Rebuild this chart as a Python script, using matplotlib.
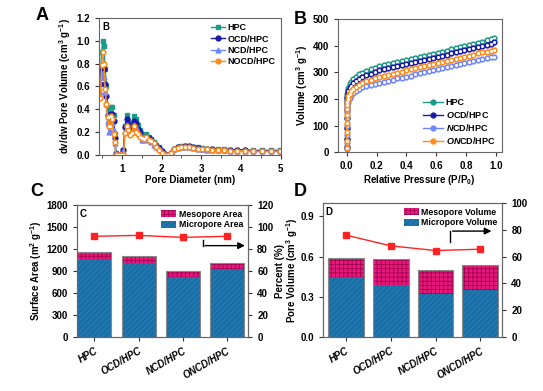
import matplotlib
matplotlib.use("Agg")
import matplotlib.pyplot as plt
from matplotlib.patches import Patch
from matplotlib.lines import Line2D

plt.rcParams['font.family'] = ['Liberation Sans', 'DejaVu Sans']
plt.rcParams['font.weight'] = 'bold'
plt.rcParams['axes.labelweight'] = 'bold'
plt.rcParams['mathtext.fontset'] = 'custom'
plt.rcParams['mathtext.rm'] = 'Liberation Sans:bold'
plt.rcParams['mathtext.bf'] = 'Liberation Sans:bold'
plt.rcParams['mathtext.it'] = 'Liberation Sans:italic:bold'
plt.rcParams['mathtext.default'] = 'rm'
plt.rcParams['axes.edgecolor'] = '#666666'
plt.rcParams['xtick.color'] = '#333333'
plt.rcParams['ytick.color'] = '#333333'
plt.rcParams['xtick.labelcolor'] = 'black'
plt.rcParams['ytick.labelcolor'] = 'black'
plt.rcParams['hatch.linewidth'] = 0.6

# ---- panel A: pore size distribution
pore_d = [0.46, 0.49, 0.52, 0.55, 0.58, 0.61, 0.64, 0.67, 0.70, 0.73, 0.76, 0.79, 0.82, 0.85,
          0.88, 0.92, 0.96, 1.00, 1.04, 1.08, 1.12, 1.16, 1.20, 1.25, 1.30, 1.35, 1.40, 1.45,
          1.50, 1.56, 1.62, 1.68, 1.74, 1.80, 1.87, 1.94, 2.01, 2.08, 2.16, 2.24, 2.32, 2.41,
          2.50, 2.60, 2.70, 2.80, 2.91, 3.02, 3.14, 3.27, 3.41, 3.56, 3.72, 3.90, 4.10, 4.30,
          4.52, 4.75, 4.98]
psd_hpc = [0.70, 0.90, 1.00, 0.95, 0.75, 0.60, 0.40, 0.30, 0.33, 0.42, 0.42, 0.35, 0.18, 0.02,
           0.00, 0.00, 0.00, 0.00, 0.04, 0.25, 0.35, 0.30, 0.26, 0.27, 0.34, 0.31, 0.26, 0.22,
           0.17, 0.17, 0.18, 0.16, 0.14, 0.11, 0.09, 0.07, 0.03, 0.01, 0.00, 0.02, 0.05, 0.07,
           0.075, 0.08, 0.08, 0.07, 0.065, 0.06, 0.055, 0.055, 0.05, 0.05, 0.045, 0.045, 0.045,
           0.04, 0.04, 0.04, 0.04]
psd_ocd = [0.62, 0.75, 0.78, 0.75, 0.62, 0.52, 0.35, 0.26, 0.28, 0.36, 0.36, 0.30, 0.15, 0.01,
           0.00, 0.00, 0.00, 0.00, 0.04, 0.24, 0.31, 0.27, 0.23, 0.24, 0.30, 0.28, 0.23, 0.20,
           0.15, 0.15, 0.16, 0.15, 0.13, 0.10, 0.08, 0.06, 0.03, 0.01, 0.00, 0.02, 0.05, 0.065,
           0.07, 0.075, 0.075, 0.065, 0.06, 0.055, 0.05, 0.05, 0.045, 0.045, 0.04, 0.04, 0.04,
           0.035, 0.035, 0.035, 0.035]
psd_ncd = [0.55, 0.68, 0.72, 0.68, 0.55, 0.45, 0.30, 0.20, 0.21, 0.28, 0.28, 0.22, 0.10, 0.01,
           0.00, 0.00, 0.00, 0.00, 0.03, 0.20, 0.26, 0.22, 0.19, 0.20, 0.26, 0.24, 0.20, 0.17,
           0.13, 0.13, 0.14, 0.13, 0.11, 0.09, 0.07, 0.05, 0.02, 0.01, 0.00, 0.02, 0.05, 0.06,
           0.07, 0.07, 0.07, 0.06, 0.055, 0.05, 0.045, 0.045, 0.04, 0.04, 0.035, 0.035, 0.035,
           0.03, 0.03, 0.03, 0.03]
psd_nocd = [0.50, 0.79, 0.90, 0.80, 0.58, 0.45, 0.33, 0.25, 0.25, 0.34, 0.31, 0.18, 0.11, 0.00,
            0.00, 0.00, 0.00, 0.00, 0.00, 0.19, 0.25, 0.22, 0.17, 0.19, 0.25, 0.20, 0.18, 0.16,
            0.15, 0.14, 0.16, 0.13, 0.12, 0.10, 0.07, 0.04, 0.02, 0.00, 0.00, 0.02, 0.05, 0.06,
            0.065, 0.07, 0.07, 0.06, 0.055, 0.05, 0.05, 0.045, 0.04, 0.04, 0.035, 0.035, 0.035,
            0.03, 0.03, 0.03, 0.03]

# ---- panel B: N2 isotherms
rel_p = [0.0, 0.0, 0.0, 0.0, 0.001, 0.002, 0.003, 0.005, 0.008, 0.012, 0.02, 0.03, 0.045,
         0.06, 0.08, 0.10, 0.13, 0.16, 0.19, 0.22, 0.25, 0.28, 0.31, 0.34, 0.37, 0.40, 0.43,
         0.46, 0.49, 0.52, 0.55, 0.58, 0.61, 0.64, 0.67, 0.70, 0.73, 0.76, 0.79, 0.82, 0.85,
         0.88, 0.91, 0.94, 0.97, 0.99]
iso_hpc = [20, 50, 90, 130, 165, 190, 205, 218, 230, 242, 255, 265, 276, 284, 292, 298, 305,
           311, 316, 322, 326, 330, 334, 338, 342, 346, 350, 354, 358, 362, 366, 370, 374, 378,
           382, 386, 390, 394, 398, 402, 406, 410, 415, 420, 425, 431]
iso_ocd = [20, 50, 90, 128, 160, 182, 196, 207, 218, 229, 240, 250, 260, 268, 276, 282, 289,
           295, 300, 308, 312, 315, 319, 322, 326, 330, 334, 338, 342, 346, 350, 354, 359, 363,
           367, 371, 375, 379, 383, 387, 391, 395, 399, 403, 408, 413]
iso_oncd = [15, 40, 75, 110, 140, 163, 177, 189, 200, 210, 220, 229, 238, 246, 253, 260, 266,
            272, 277, 283, 287, 291, 295, 299, 303, 307, 311, 315, 319, 323, 327, 331, 335, 339,
            343, 347, 351, 355, 359, 363, 367, 371, 375, 378, 381, 384]
iso_ncd = [12, 35, 65, 100, 130, 152, 166, 177, 187, 196, 205, 214, 222, 230, 237, 243, 249,
           254, 258, 261, 265, 269, 273, 277, 280, 284, 288, 292, 296, 300, 304, 308, 312, 316,
           320, 324, 328, 332, 336, 340, 344, 347, 350, 353, 356, 358]

# ---- panels C, D
samples = ['HPC', 'OCD/HPC', 'NCD/HPC', 'ONCD/HPC']
micro_area = [1065, 1010, 815, 920]
total_area = [1165, 1100, 900, 1010]
area_percent = [91.5, 92.3, 90.5, 91.5]
micro_vol = [0.45, 0.39, 0.32, 0.35]
total_vol = [0.59, 0.58, 0.50, 0.54]
vol_percent = [76, 68, 64.5, 65.5]

c_hpc, c_ocd, c_ncd, c_nocd = '#1c9a8a', '#1a1aa8', '#6f86ff', '#ff8c1a'
c_micro, c_micro_h = '#1a6ea6', '#2a80b8'
c_meso, c_meso_h = '#e8197d', '#a3004f'

fig = plt.figure(figsize=(5.43, 3.91), dpi=100)

# ===== A =====
axA = fig.add_axes([0.182, 0.604, 0.335, 0.350])
axA.plot(pore_d, psd_hpc, '-s', color=c_hpc, ms=3.5, lw=1, label='HPC')
axA.plot(pore_d, psd_ocd, '-o', color=c_ocd, ms=3.5, lw=1, label='OCD/HPC')
axA.plot(pore_d, psd_ncd, '-^', color=c_ncd, ms=3.5, lw=1, label='NCD/HPC')
axA.plot(pore_d, psd_nocd, '-o', color=c_nocd, ms=3.5, lw=1, label='NOCD/HPC')
axA.plot(pore_d, psd_nocd, 'o', color='white', ms=1.2)
axA.set_xlim(0.42, 5.0)
axA.set_ylim(0, 1.2)
axA.set_xticks([1, 2, 3, 4, 5])
axA.set_xticks([0.5, 1.5, 2.5, 3.5, 4.5], minor=True)
axA.set_yticks([0, 0.2, 0.4, 0.6, 0.8, 1.0, 1.2])
axA.set_yticklabels(['0.0', '0.2', '0.4', '0.6', '0.8', '1.0', '1.2'])
axA.set_xlabel('Pore Diameter (nm)', fontsize=7, labelpad=1)
axA.set_ylabel(r'dv/dw Pore Volume (cm$^3$ g$^{-1}$)', fontsize=7, labelpad=2)
axA.text(0.02, 0.97, 'B', transform=axA.transAxes, fontsize=7, fontweight='bold', va='top')
axA.legend(loc='upper right', fontsize=6.5, frameon=False, handlelength=1.5,
           handletextpad=0.3, labelspacing=0.25, borderaxespad=0.2)

# ===== B =====
axB = fig.add_axes([0.622, 0.611, 0.302, 0.340])
for y, c in [(iso_hpc, c_hpc), (iso_ocd, c_ocd), (iso_ncd, c_ncd), (iso_oncd, c_nocd)]:
    axB.plot(rel_p, y, '-o', color=c, ms=3.5, lw=1)
    axB.plot(rel_p, y, 'o', color='white', ms=1.2)
axB.set_xlim(-0.06, 1.04)
axB.set_ylim(0, 500)
axB.set_xticks([0.0, 0.2, 0.4, 0.6, 0.8, 1.0])
axB.set_xticklabels(['0.0', '0.2', '0.4', '0.6', '0.8', '1.0'])
axB.set_yticks([0, 100, 200, 300, 400, 500])
axB.set_xlabel(r'Relative Pressure (P/P$_0$)', fontsize=7, labelpad=1)
axB.set_ylabel(r'Volume (cm$^3$ g$^{-1}$)', fontsize=7, labelpad=2)
handlesB = [Line2D([], [], color=c, marker='o', ms=3.5, lw=1) for c in [c_hpc, c_ocd, c_ncd, c_nocd]]
axB.legend(handlesB, ['HPC', r'$\mathit{O}$CD/HPC', r'$\mathit{N}$CD/HPC', r'$\mathit{ON}$CD/HPC'],
           loc='lower right', fontsize=6.5, frameon=False, handlelength=2.2,
           handletextpad=0.3, labelspacing=0.2, borderaxespad=0.3)


def bar_panel(ax, micro, total, percent, ylim, yticks, ylabels, plim, pticks,
              width, xlim, arrow, leg_names, inner):
    x = list(range(len(samples)))
    meso = [t - m for t, m in zip(total, micro)]
    ax.bar(x, micro, width, color=c_micro, edgecolor=c_micro_h, hatch='//////', lw=0)
    ax.bar(x, meso, width, bottom=micro, color=c_meso, edgecolor=c_meso_h, hatch='++++', lw=0)
    ax.bar(x, total, width, fill=False, edgecolor='#888888', lw=0.8)
    ax.set_xlim(*xlim)
    ax.set_ylim(*ylim)
    ax.set_yticks(yticks)
    ax.set_yticklabels(ylabels)
    ax.set_xticks(x)
    ax.set_xticklabels(samples, rotation=30, ha='right', rotation_mode='anchor',
                       fontsize=6.5, fontstyle='italic')
    ax.text(0.015, 0.97, inner, transform=ax.transAxes, fontsize=7, fontweight='bold', va='top')
    handles = [Patch(facecolor=c_meso, edgecolor=c_meso_h, hatch='++++', lw=0),
               Patch(facecolor=c_micro, edgecolor=c_micro_h, hatch='//////', lw=0)]
    ax.legend(handles, leg_names, loc='upper right', fontsize=6.3, frameon=False,
              handlelength=1.7, handleheight=0.9, handletextpad=0.3, labelspacing=0.2,
              borderaxespad=0.15)
    ax2 = ax.twinx()
    ax2.plot(x, percent, '-s', color='#ff2222', ms=4, lw=1)
    ax2.set_ylim(*plim)
    ax2.set_yticks(pticks)
    (x0, y0), (x1, y1), x2 = arrow
    ax2.plot([x0, x1], [y0, y1], color='black', lw=1)
    ax2.annotate('', xy=(x2, y1), xytext=(x1 - 0.01, y1),
                 arrowprops=dict(arrowstyle='-|>', color='black', lw=1, mutation_scale=10))
    for a in (ax, ax2):
        a.tick_params(labelsize=7, length=3, width=0.8)
    return ax2


# ===== C =====
axC = fig.add_axes([0.142, 0.138, 0.315, 0.338])
axC2 = bar_panel(axC, micro_area, total_area, area_percent, (0, 1800),
                 [0, 300, 600, 900, 1200, 1500, 1800],
                 ['0', '300', '600', '900', '1200', '1500', '1800'],
                 (0, 120), [0, 20, 40, 60, 80, 100, 120], 0.77, (-0.39, 3.48),
                 ((2.45, 88.5), (2.45, 83), 3.47), ['Mesopore Area', 'Micropore Area'], 'C')
axC.set_ylabel(r'Surface Area (m$^2$ g$^{-1}$)', fontsize=7, labelpad=2)
axC2.set_ylabel('Percent (%)', fontsize=7, labelpad=1)

# ===== D =====
axD = fig.add_axes([0.595, 0.138, 0.330, 0.343])
axD2 = bar_panel(axD, micro_vol, total_vol, vol_percent, (0, 1.0),
                 [0, 0.3, 0.6, 0.9], ['0.0', '0.3', '0.6', '0.9'],
                 (0, 100), [0, 20, 40, 60, 80, 100], 0.8, (-0.51, 3.49),
                 ((2.33, 71), (2.33, 79), 3.31), ['Mesopore Volume', 'Micropore Volume'], 'D')
axD.set_ylabel(r'Pore Volume (cm$^3$ g$^{-1}$)', fontsize=7, labelpad=0)

for ax in (axA, axB):
    ax.tick_params(labelsize=7, length=3, width=0.8)
    ax.tick_params(which='minor', length=2, width=0.6)

for lbl, (px, py) in zip('ABCD', [(42, 15), (300, 20), (37, 192), (300, 192)]):
    fig.text(px / 543, 1 - py / 391, lbl, fontsize=13, fontweight='bold', ha='center', va='center')

fig.savefig('out.png', dpi=100)
